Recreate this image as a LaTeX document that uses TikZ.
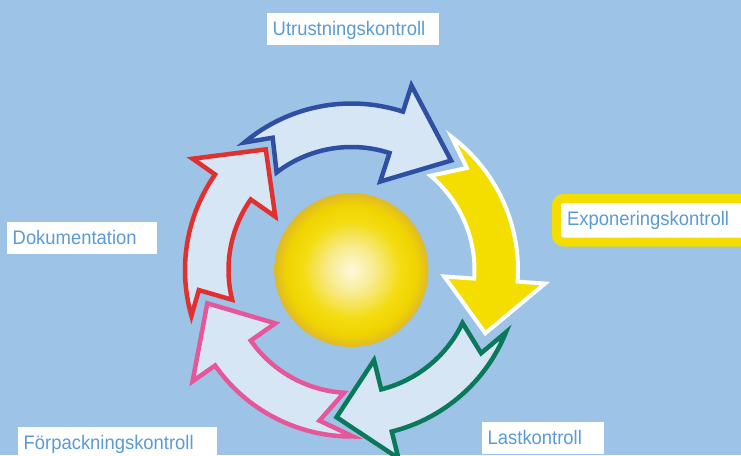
\documentclass[tikz,border=0pt]{standalone}
\usepackage{fontspec}
\setmainfont{Liberation Sans}[FakeStretch=0.94]
\definecolor{bgblue}{HTML}{9DC3E6}
\definecolor{lightfill}{HTML}{D7E6F5}
\definecolor{arrblue}{HTML}{2F4FA2}
\definecolor{arrred}{HTML}{E03131}
\definecolor{arrpink}{HTML}{E6579A}
\definecolor{arrgreen}{HTML}{0A785A}
\definecolor{yelfill}{HTML}{F3DE00}
\definecolor{txtblue}{HTML}{5B9BD5}
\definecolor{sunA}{HTML}{FFF9DC}
\definecolor{sunB}{HTML}{F8EA8A}
\definecolor{sunC}{HTML}{F3DC10}
\definecolor{sunD}{HTML}{F0D400}
\definecolor{sunE}{HTML}{DFBA28}
\pgfdeclareradialshading{sunshade}{\pgfpoint{0bp}{0bp}}{color(0bp)=(sunA); color(8bp)=(sunB); color(16bp)=(sunC); color(21bp)=(sunD); color(25bp)=(sunE); color(50bp)=(sunE)}
\def\RingOut{166.5}
\def\RingIn{123}
\def\BarbOut{194}
\def\BarbIn{93}
\def\TipR{148}
\def\NotchR{154}
% #1 style, #2 outer tail angle, #3 inner tail angle, #4 notch angle, #5 barb angle, #6 tip angle
\newcommand\ringarrow[6]{%
  \draw[#1] (#2:\RingOut) arc[start angle=#2, end angle=#5, radius=\RingOut]
    -- (#5:\BarbOut) -- (#6:\TipR) -- (#5:\BarbIn) -- (#5:\RingIn)
    arc[start angle=#5, end angle=#3, radius=\RingIn]
    -- (#4:\NotchR) -- cycle;}
\tikzset{
  ringbase/.style={line width=4.5pt, line join=miter, miter limit=10, fill=lightfill},
  lbl/.style={fill=white, text=txtblue, inner xsep=5.5pt, inner ysep=0pt,
    text height=22pt, text depth=10pt, align=left, anchor=base west},
  expo/.style={fill=white, draw=yelfill, line width=9pt, rounded corners=7pt,
    text=txtblue, anchor=base west, inner xsep=10.7pt, inner ysep=0pt,
    text height=26.5pt, text depth=17pt, text width=200pt, align=left}
}
\begin{document}
\begin{tikzpicture}[x=1pt, y=-1pt, font=\fontsize{19.6pt}{21pt}\selectfont]
\useasboundingbox (0,0) rectangle (741,455);
\fill[bgblue] (0,0) rectangle (741,455);
\begin{scope}[shift={(351.5,270)}]
  \ringarrow{ringbase, draw=arrblue}{230}{232.5}{239.2}{288}{312.3}
  \ringarrow{ringbase, draw=white, fill=yelfill, line width=4pt}{-53}{-50}{-41.5}{4}{25.3}
  \ringarrow{ringbase, draw=arrgreen}{22}{25.5}{32.7}{76}{95.8}
  \ringarrow{ringbase, draw=arrpink}{89.5}{93.5}{102}{145}{167}
  \ringarrow{ringbase, draw=arrred}{164}{166}{172.5}{215}{234.6}
\end{scope}
\node[circle, minimum size=154pt, inner sep=0pt, shading=sunshade] (sun) at (351.5,270) {};
\node[lbl, text width=161pt] (utr) at (267,35) {Utrustningskontroll};
\node[lbl, text width=139pt] (dok) at (7,244.3) {Dokumentation};
\node[lbl, text width=111pt] (last) at (482,444.3) {Lastkontroll};
\node[lbl, text width=188pt] (forp) at (18,449.3) {Förpackningskontroll};
\node[expo] (exp) at (552,225) {Exponeringskontroll};
\end{tikzpicture}
\end{document}
